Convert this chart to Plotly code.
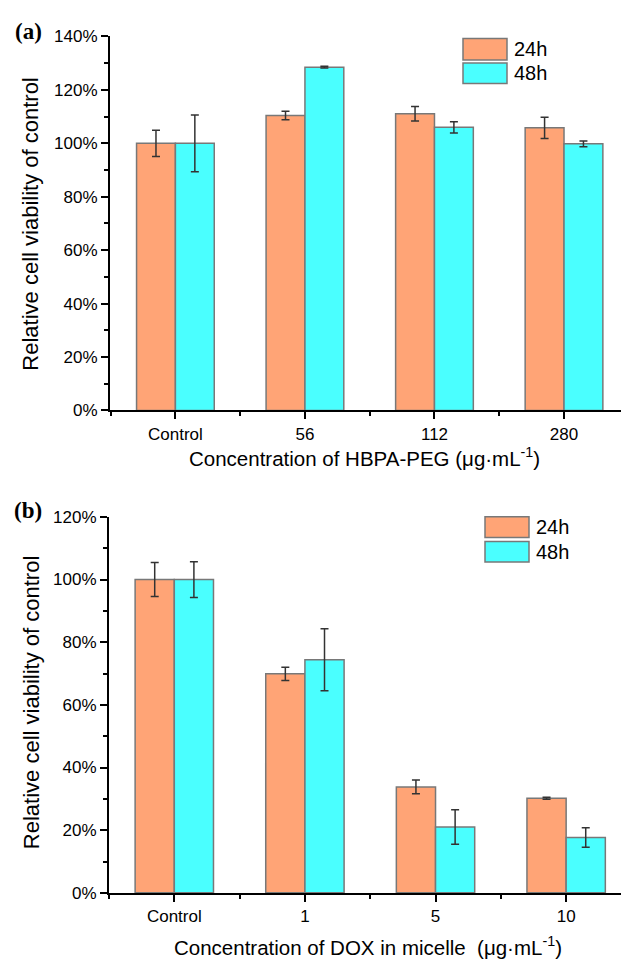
import plotly.graph_objects as go

W, H = 621, 972

# ---------------- data ----------------
series = ["24h", "48h"]

categories_a = ["Control", "56", "112", "280"]
viab_a_24h = [100.0, 110.4, 111.1, 105.8]
err_a_24h = [4.9, 1.6, 2.7, 4.0]
viab_a_48h = [100.0, 128.5, 106.0, 99.8]
err_a_48h = [10.6, 0.3, 2.1, 1.1]

categories_b = ["Control", "1", "5", "10"]
viab_b_24h = [100.0, 69.9, 33.8, 30.2]
err_b_24h = [5.4, 2.1, 2.2, 0.3]
viab_b_48h = [100.0, 74.4, 21.0, 17.7]
err_b_48h = [5.7, 9.9, 5.5, 3.1]

# ---------------- style ----------------
colors = ["#FFA476", "#4AFFFF"]
edge = "#787878"
FONT = "Liberation Sans, Arial, sans-serif"
SERIF = "Liberation Serif, Times New Roman, serif"


def px(x):
    return x / W


def py(y):
    return 1 - y / H


fig = go.Figure()

panels = [
    dict(xa="x", ya="y", cats=categories_a,
         vals=[viab_a_24h, viab_a_48h], errs=[err_a_24h, err_a_48h]),
    dict(xa="x2", ya="y2", cats=categories_b,
         vals=[viab_b_24h, viab_b_48h], errs=[err_b_24h, err_b_48h]),
]

for p in panels:
    xs = list(range(len(p["cats"])))
    for name, vals, errs, col in zip(series, p["vals"], p["errs"], colors):
        fig.add_trace(go.Bar(
            x=xs, y=vals, name=name, showlegend=False,
            xaxis=p["xa"], yaxis=p["ya"],
            marker=dict(color=col, line=dict(color=edge, width=1.5)),
            error_y=dict(type="data", array=errs, visible=True,
                         color="#333333", thickness=1.5, width=4),
        ))

axis_common = dict(
    showline=True, linewidth=2, linecolor="black",
    ticks="outside", ticklen=7, tickwidth=2, tickcolor="black",
    showgrid=False, zeroline=False,
    tickfont=dict(family=FONT, size=17, color="black"),
)

minor_x = dict(tickvals=[-0.5, 0.5, 1.5, 2.5], ticks="outside",
               ticklen=4, tickwidth=2, tickcolor="black")

fig.update_layout(
    width=W, height=H,
    margin=dict(l=0, r=0, t=0, b=0),
    paper_bgcolor="white", plot_bgcolor="white",
    barmode="group", bargap=0.4, bargroupgap=0.0,
    showlegend=False,
    xaxis=dict(domain=[px(110), 1], anchor="y", range=[-0.505, 3.44],
               tickmode="array", tickvals=list(range(4)), ticktext=categories_a,
               minor=minor_x, **axis_common),
    yaxis=dict(domain=[py(409.5), py(28)], anchor="x", range=[0, 140],
               tick0=0, dtick=20, ticksuffix="%",
               minor=dict(dtick=10, ticks="outside", ticklen=4, tickwidth=2,
                          tickcolor="black"),
               **axis_common),
    xaxis2=dict(domain=[px(109), 1], anchor="y2", range=[-0.5, 3.42],
                tickmode="array", tickvals=list(range(4)), ticktext=categories_b,
                minor=minor_x, **axis_common),
    yaxis2=dict(domain=[py(901.5), py(518)], anchor="x2", range=[0, 120],
                tick0=0, dtick=20, ticksuffix="%",
                minor=dict(dtick=10, ticks="outside", ticklen=4, tickwidth=2,
                           tickcolor="black"),
                **axis_common),
)

ytitle_font = dict(family=FONT, size=22, color="black")
xtitle_font = dict(family=FONT, size=20.5, color="black")
annotations = [
    dict(text="Relative cell viability of control", x=px(31), y=py(220),
         textangle=-90, font=ytitle_font),
    dict(text="Relative cell viability of control", x=px(31), y=py(708),
         textangle=-90, font=ytitle_font),
    dict(text="Concentration of HBPA-PEG (\u03bcg\u00b7mL<sup>-1</sup>)",
         x=px(365), y=py(457), font=xtitle_font),
    dict(text="Concentration of DOX in micelle\u00a0 (\u03bcg\u00b7mL<sup>-1</sup>)",
         x=px(368), y=py(956), font=xtitle_font),
    dict(text="<b>(a)</b>", x=px(28), y=py(23),
         font=dict(family=SERIF, size=23, color="black")),
    dict(text="<b>(b)</b>", x=px(28), y=py(512),
         font=dict(family=SERIF, size=23, color="black")),
]

# legends drawn as swatches + labels
legend_specs = [
    dict(x0=463, x1=507, rows=[(30, 52), (55, 76)], tx=512),
    dict(x0=485, x1=529, rows=[(518, 539), (543, 564)], tx=534),
]
shapes = []
for spec in legend_specs:
    for (y0, y1), name, col in zip(spec["rows"], series, colors):
        shapes.append(dict(type="rect", xref="paper", yref="paper",
                           x0=px(spec["x0"]), x1=px(spec["x1"]),
                           y0=py(y1), y1=py(y0),
                           fillcolor=col, line=dict(color=edge, width=1.5)))
        annotations.append(dict(text=name, x=px(spec["tx"]), y=py((y0 + y1) / 2),
                                xanchor="left",
                                font=dict(family=FONT, size=20, color="black")))

for a in annotations:
    a.setdefault("xref", "paper")
    a.setdefault("yref", "paper")
    a.setdefault("showarrow", False)
    a.setdefault("xanchor", "center")
    a.setdefault("yanchor", "middle")

fig.update_layout(annotations=annotations, shapes=shapes)

fig.write_html("out.html")
